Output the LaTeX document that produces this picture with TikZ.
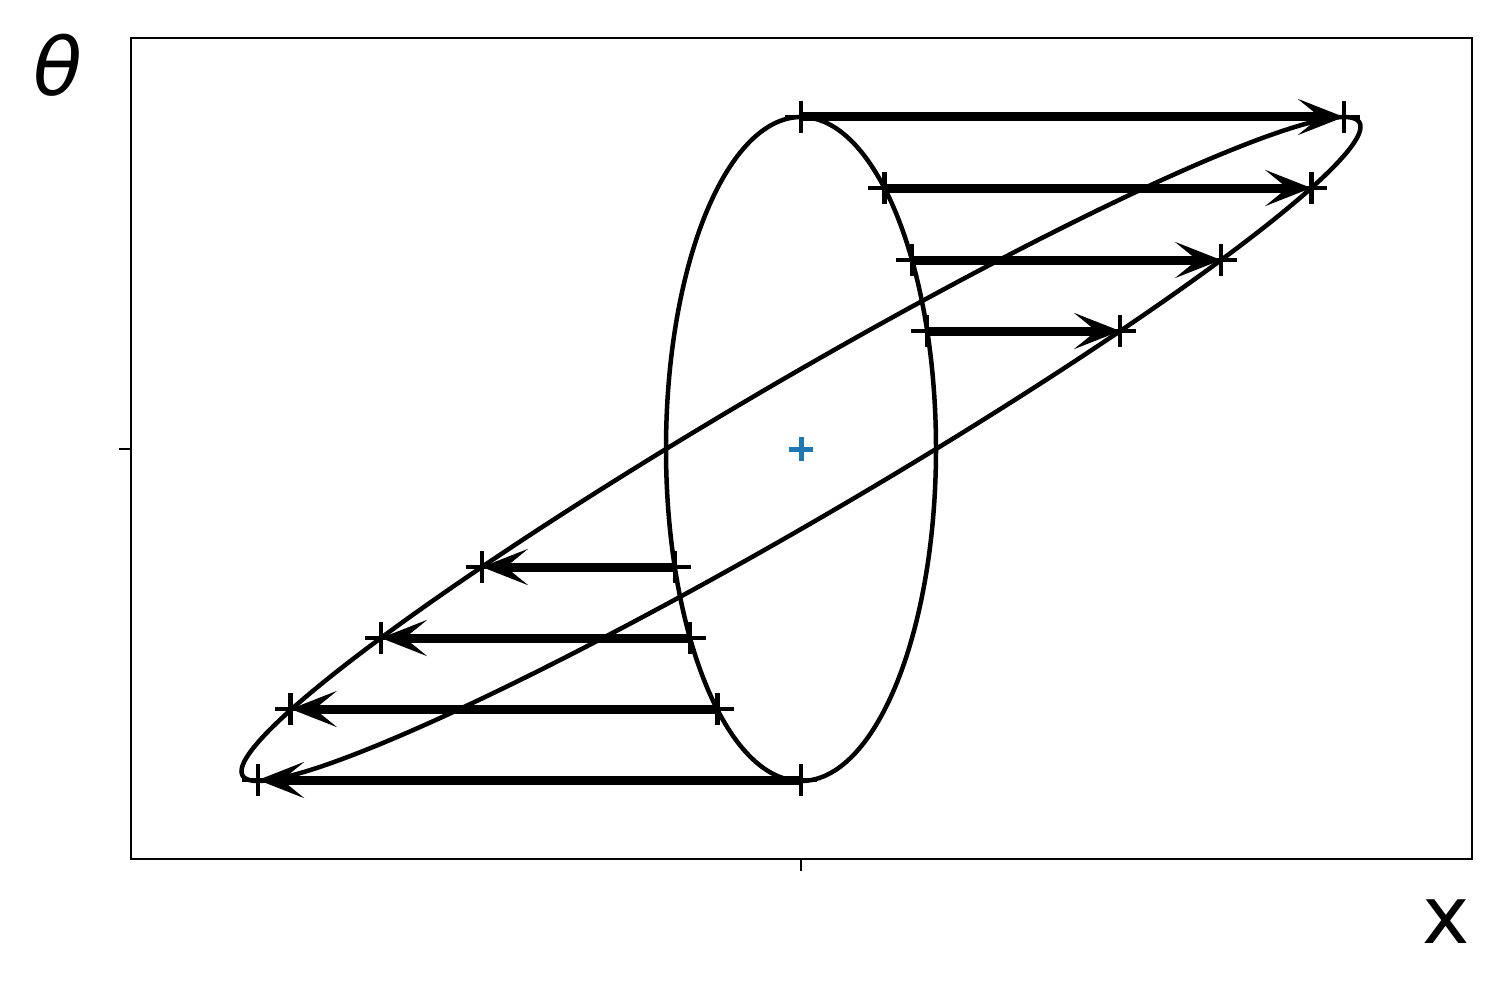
\documentclass[tikz,border=0pt]{standalone}
\usepackage{fontspec}
\setmainfont{DejaVu Sans}
\usetikzlibrary{arrows.meta}
\definecolor{mplblue}{HTML}{1F77B4}

\begin{document}
\begin{tikzpicture}[x=1pt, y=-1pt,
  curve/.style = {line width=4.5pt},
  flow/.style = {line width=9pt, -{Stealth[length=46pt, width=36pt, inset=22pt]}},
  mk/.style = {line width=4.5pt},
  lbl/.style = {font=\fontsize{80}{96}\selectfont, inner sep=0pt}]
\useasboundingbox (0,0) rectangle (1510,1006);
% frame and ticks
\draw[line width=2.2pt] (131,38) rectangle (1472,859);
\draw[line width=2.2pt] (119,449) -- (131,449);
\draw[line width=2.2pt] (801,859) -- (801,871);
% start points on the ellipse
\coordinate (a1) at (801,117);
\coordinate (a2) at (884.4,188);
\coordinate (a3) at (912,260);
\coordinate (a4) at (927.2,331);
\coordinate (a5) at (674.8,567);
\coordinate (a6) at (690,638);
\coordinate (a7) at (717.6,709);
\coordinate (a8) at (801,780);
% end points on the sheared ellipse
\coordinate (b1) at (1344,117);
\coordinate (b2) at (1311.3,188);
\coordinate (b3) at (1221.1,260);
\coordinate (b4) at (1120.2,331);
\coordinate (b5) at (481.8,567);
\coordinate (b6) at (380.9,638);
\coordinate (b7) at (290.7,709);
\coordinate (b8) at (258,780);
% ellipses
\draw[curve] (801,449) ellipse [x radius=135, y radius=332];
\draw[curve] plot[domain=0:360, samples=240, smooth cycle]
  ({801+135*cos(\x)+543*sin(\x)}, {449-332*sin(\x)});
% arrows
\draw[flow] (a1) -- (b1);
\draw[flow] (a2) -- (b2);
\draw[flow] (a3) -- (b3);
\draw[flow] (a4) -- (b4);
\draw[flow] (a5) -- (b5);
\draw[flow] (a6) -- (b6);
\draw[flow] (a7) -- (b7);
\draw[flow] (a8) -- (b8);
% markers
\foreach \p in {a1,a2,a3,a4,a5,a6,a7,a8,b1,b2,b3,b4,b5,b6,b7,b8}
  \draw[mk] (\p) +(-16,0) -- +(16,0) +(0,-16) -- +(0,16);
\draw[mk, mplblue, line width=5pt] (801,449) +(-12,0) -- +(12,0) +(0,-12) -- +(0,12);
% axis labels
\node[lbl] (th) at (58,65) {\itshape θ};
\node[lbl] (xl) at (1446,922) {x};
\end{tikzpicture}
\end{document}
